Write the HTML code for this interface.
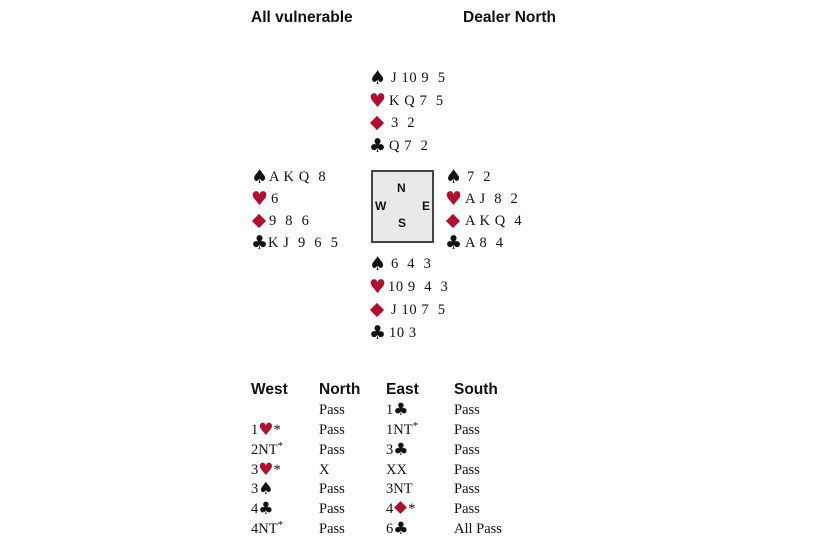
<!DOCTYPE html>
<html><head><meta charset="utf-8"><style>
body{margin:0;width:820px;height:550px;background:#fff;position:relative;overflow:hidden;font-family:"Liberation Serif",serif;color:#111}
.l{position:absolute;font-size:14.5px;line-height:16px;white-space:pre;letter-spacing:0.6px}
.s{position:absolute;font-size:19px;line-height:16px;font-family:"DejaVu Sans",sans-serif;width:16px;text-align:center}
.r{color:#b01030}
.dm{position:absolute;width:10px;height:10px;background:#b01030;transform:rotate(45deg)}
.h{position:absolute;font-family:"Liberation Sans",sans-serif;font-weight:bold;font-size:15.5px;line-height:18px}
.b{position:absolute;font-size:14.5px;line-height:16px;height:16px;white-space:pre}
.bs{font-family:"DejaVu Sans",sans-serif;font-size:17px;line-height:0;vertical-align:-1px}
.st{font-size:11px;line-height:0;vertical-align:5px}
.sd{display:inline-block;width:9px;height:9px;background:#b01030;transform:rotate(45deg);margin:0 3px 0 3px;vertical-align:1px}
.box{position:absolute;left:371px;top:170px;width:59px;height:69px;border:2px solid #444;background:#e9e9e9}
.d{position:absolute;font-family:"Liberation Sans",sans-serif;font-weight:bold;font-size:12px;line-height:14px}
</style></head><body>
<div class="h" style="left:251px;top:9px">All vulnerable</div>
<div class="h" style="left:463px;top:9px">Dealer North</div>

<div class="s" style="left:369px;top:70px">♠</div><div class="l" style="left:391px;top:70px">J 10 9  5</div>
<div class="s r" style="left:369px;top:93px">♥</div><div class="l" style="left:389px;top:93px">K Q 7  5</div>
<div class="dm" style="left:372px;top:118px"></div><div class="l" style="left:391px;top:115px">3  2</div>
<div class="s" style="left:369px;top:138px">♣</div><div class="l" style="left:389px;top:138px">Q 7  2</div>

<div class="s" style="left:251px;top:169px">♠</div><div class="l" style="left:269px;top:169px">A K Q  8</div>
<div class="s r" style="left:251px;top:191px">♥</div><div class="l" style="left:271px;top:191px">6</div>
<div class="dm" style="left:254px;top:216px"></div><div class="l" style="left:269px;top:213px">9  8  6</div>
<div class="s" style="left:251px;top:235px">♣</div><div class="l" style="left:268px;top:235px">K J  9  6  5</div>

<div class="s" style="left:445px;top:169px">♠</div><div class="l" style="left:467px;top:169px">7  2</div>
<div class="s r" style="left:445px;top:191px">♥</div><div class="l" style="left:465px;top:191px">A J  8  2</div>
<div class="dm" style="left:448px;top:216px"></div><div class="l" style="left:465px;top:213px">A K Q  4</div>
<div class="s" style="left:445px;top:235px">♣</div><div class="l" style="left:465px;top:235px">A 8  4</div>

<div class="s" style="left:369px;top:256px">♠</div><div class="l" style="left:391px;top:256px">6  4  3</div>
<div class="s r" style="left:369px;top:279px">♥</div><div class="l" style="left:388px;top:279px">10 9  4  3</div>
<div class="dm" style="left:372px;top:305px"></div><div class="l" style="left:391px;top:302px">J 10 7  5</div>
<div class="s" style="left:369px;top:325px">♣</div><div class="l" style="left:389px;top:325px">10 3</div>

<div class="box"></div>
<div class="d" style="left:397px;top:181px">N</div>
<div class="d" style="left:375px;top:199px">W</div>
<div class="d" style="left:422px;top:199px">E</div>
<div class="d" style="left:398px;top:216px">S</div>

<div class="h" style="left:251px;top:381px">West</div>
<div class="h" style="left:319px;top:381px">North</div>
<div class="h" style="left:386px;top:381px">East</div>
<div class="h" style="left:454px;top:381px">South</div>

<div class="b" style="left:319px;top:402px">Pass</div>
<div class="b" style="left:386px;top:402px">1<span class="bs">♣</span></div>
<div class="b" style="left:454px;top:402px">Pass</div>

<div class="b" style="left:251px;top:422px">1<span class="bs r">♥</span>*</div>
<div class="b" style="left:319px;top:422px">Pass</div>
<div class="b" style="left:386px;top:422px">1NT<span class="st">*</span></div>
<div class="b" style="left:454px;top:422px">Pass</div>

<div class="b" style="left:251px;top:442px">2NT<span class="st">*</span></div>
<div class="b" style="left:319px;top:442px">Pass</div>
<div class="b" style="left:386px;top:442px">3<span class="bs">♣</span></div>
<div class="b" style="left:454px;top:442px">Pass</div>

<div class="b" style="left:251px;top:462px">3<span class="bs r">♥</span>*</div>
<div class="b" style="left:319px;top:462px">X</div>
<div class="b" style="left:386px;top:462px">XX</div>
<div class="b" style="left:454px;top:462px">Pass</div>

<div class="b" style="left:251px;top:481px">3<span class="bs">♠</span></div>
<div class="b" style="left:319px;top:481px">Pass</div>
<div class="b" style="left:386px;top:481px">3NT</div>
<div class="b" style="left:454px;top:481px">Pass</div>

<div class="b" style="left:251px;top:501px">4<span class="bs">♣</span></div>
<div class="b" style="left:319px;top:501px">Pass</div>
<div class="b" style="left:386px;top:501px">4<span class="sd"></span>*</div>
<div class="b" style="left:454px;top:501px">Pass</div>

<div class="b" style="left:251px;top:521px">4NT<span class="st">*</span></div>
<div class="b" style="left:319px;top:521px">Pass</div>
<div class="b" style="left:386px;top:521px">6<span class="bs">♣</span></div>
<div class="b" style="left:454px;top:521px">All Pass</div>
</body></html>
